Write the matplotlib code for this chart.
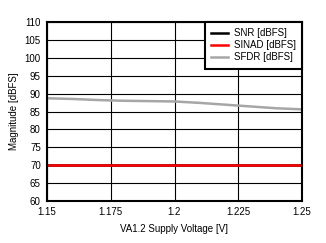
import matplotlib
matplotlib.use("Agg")
import matplotlib.pyplot as plt

plt.rcParams['font.family'] = ['Liberation Sans', 'DejaVu Sans']

voltage = [1.15, 1.16, 1.17, 1.18, 1.19, 1.20, 1.21, 1.22, 1.23, 1.24, 1.25]
snr = [70.0, 70.0, 70.0, 70.0, 70.0, 70.0, 70.0, 70.0, 70.0, 70.0, 70.0]
sinad = [70.0, 70.0, 70.0, 70.0, 70.0, 70.0, 70.0, 70.0, 70.0, 70.0, 70.0]
sfdr = [88.7, 88.5, 88.2, 88.0, 87.9, 87.8, 87.4, 86.9, 86.4, 85.9, 85.6]

fig = plt.figure(figsize=(3.26, 2.43), dpi=100)
ax = fig.add_axes([47 / 326, 1 - 201 / 243, 255 / 326, 179 / 243])

ax.plot(voltage, snr, color='black', lw=1.8, label='SNR [dBFS]')
ax.plot(voltage, sinad, color='#ff0000', lw=1.8, label='SINAD [dBFS]')
ax.plot(voltage, sfdr, color='#a6a6a6', lw=1.8, label='SFDR [dBFS]')

ax.set_xlim(1.15, 1.25)
ax.set_ylim(60, 110)
ax.set_xticks([1.15, 1.175, 1.2, 1.225, 1.25])
ax.set_xticklabels(['1.15', '1.175', '1.2', '1.225', '1.25'])
ax.set_yticks(range(60, 111, 5))
ax.grid(True, color='black', lw=0.8)
ax.tick_params(length=0, labelsize=7, pad=4.5)
for s in ax.spines.values():
    s.set_linewidth(1.5)

ax.set_xlabel('VA1.2 Supply Voltage [V]', fontsize=7, labelpad=5)
ax.set_ylabel('Magnitude [dBFS]', fontsize=7, labelpad=4)

leg = ax.legend(loc='upper right', fontsize=7, fancybox=False, framealpha=1,
                edgecolor='black', borderaxespad=0, handlelength=1.7,
                handletextpad=0.6, labelspacing=0.2, borderpad=0.65)
leg.get_frame().set_linewidth(1.5)

fig.savefig('out.png', dpi=100)
